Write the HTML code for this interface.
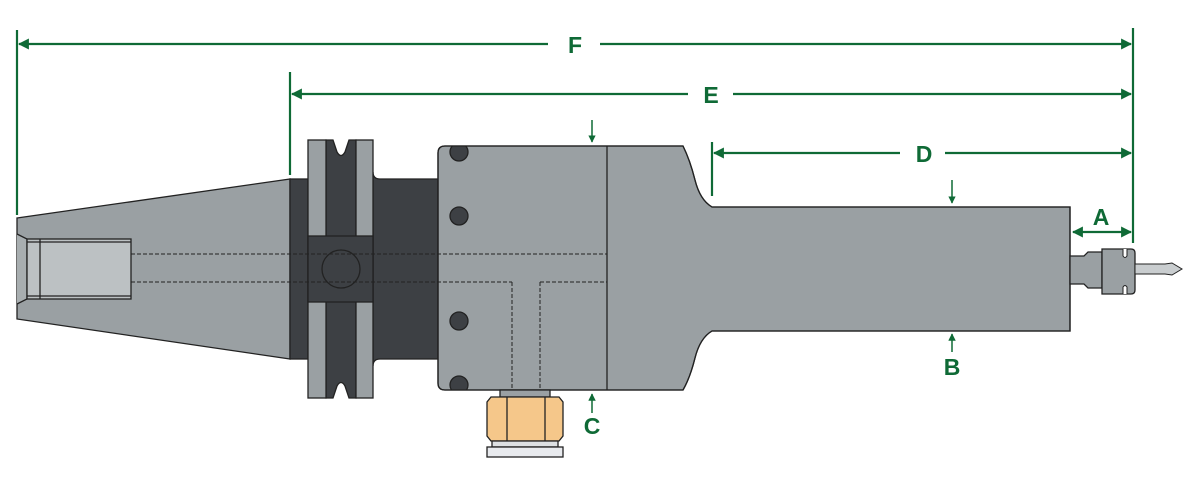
<!DOCTYPE html>
<html><head><meta charset="utf-8"><style>
html,body{margin:0;padding:0;background:#fff;}
svg{display:block;}
text{font-family:"Liberation Sans",sans-serif;font-weight:bold;fill:#0f6a36;font-size:23px;text-anchor:middle;}
</style></head><body>
<svg width="1200" height="488" viewBox="0 0 1200 488" xmlns="http://www.w3.org/2000/svg">
<defs>
<marker id="ar" viewBox="0 0 10 10" refX="9" refY="5" markerWidth="5" markerHeight="5" orient="auto-start-reverse"><path d="M0,0 L10,5 L0,10 z" fill="#0f6a36"/></marker>
<clipPath id="bc"><path d="M445,146 L683,146 Q690,160 695,180 Q700,200 712,207 L1070,207 L1070,331 L712,331 Q700,338 695,358 Q690,378 683,390 L445,390 Q438,390 438,383 L438,153 Q438,146 445,146 Z"/></clipPath>
</defs>
<g stroke="#222" stroke-width="1.3">
<path d="M17,218 L290,179 L290,359 L17,319 Z" fill="#9aa0a3"/>
<path d="M17,234 L27,239 L27,299 L17,304" fill="#a8aeb0"/>
<rect x="27" y="239" width="104" height="60" fill="#bcc1c3"/>
<line x1="40" y1="239" x2="40" y2="299"/><line x1="27" y1="242" x2="131" y2="242"/><line x1="27" y1="296" x2="131" y2="296"/>
<rect x="290" y="179" width="18" height="180" fill="#3d4044"/>
<path d="M373,172 Q373,179 380,179 L438,179 L438,359 L380,359 Q373,359 373,366 Z" fill="#3d4044"/>
<path d="M326,140 L333,140 L337,152 Q341,159 345,152 L349,140 L356,140 L356,398 L349,398 L345,386 Q341,379 337,386 L333,398 L326,398 Z" fill="#3d4044"/>
<rect x="308" y="140" width="18" height="258" fill="#9aa0a3"/>
<rect x="356" y="140" width="17" height="258" fill="#9aa0a3"/>
<rect x="308" y="236" width="65" height="66" fill="#3d4044"/>
<circle cx="341" cy="269" r="19" fill="#3d4044"/>
<path d="M445,146 L683,146 Q690,160 695,180 Q700,200 712,207 L1070,207 L1070,331 L712,331 Q700,338 695,358 Q690,378 683,390 L445,390 Q438,390 438,383 L438,153 Q438,146 445,146 Z" fill="#9aa0a3"/>
<line x1="607" y1="146" x2="607" y2="390"/>
<g clip-path="url(#bc)">
<circle cx="459" cy="152" r="9" fill="#3d4044"/>
<circle cx="459" cy="216" r="9" fill="#3d4044"/>
<circle cx="459" cy="321" r="9" fill="#3d4044"/>
<circle cx="459" cy="385" r="9" fill="#3d4044"/>
</g>
<path d="M445,146 L683,146 Q690,160 695,180 Q700,200 712,207 L1070,207 L1070,331 L712,331 Q700,338 695,358 Q690,378 683,390 L445,390 Q438,390 438,383 L438,153 Q438,146 445,146 Z" fill="none"/>
<path d="M1070,256 L1084,256 L1088,252 L1102,252 L1102,288 L1088,288 L1084,284 L1070,284 Z" fill="#9aa0a3"/>
<path d="M1102,249 L1131,249 Q1135,249 1135,253 L1135,290 Q1135,294 1131,294 L1102,294 Z" fill="#9aa0a3"/>
<path d="M1123,249 L1123,256 Q1125,259 1127,256 L1127,249" fill="#fff" stroke-width="1"/>
<path d="M1123,294 L1123,287 Q1125,284 1127,287 L1127,294" fill="#fff" stroke-width="1"/>
<path d="M1135,264 L1165,264 L1172,263 L1182,269 L1172,275 L1165,274 L1135,274 Z" fill="#c9cdcf" stroke-width="1"/>
<rect x="500" y="390" width="50" height="7" fill="#9aa0a3"/>
<path d="M491,397 L559,397 L563,402 L563,436 L559,441 L491,441 L487,436 L487,402 Z" fill="#f5c78a"/>
<line x1="507" y1="397" x2="507" y2="441"/><line x1="545" y1="397" x2="545" y2="441"/>
<rect x="492" y="441" width="66" height="6" fill="#dde0e3"/>
<rect x="487" y="447" width="76" height="10" fill="#e8eaee"/>
</g>
<g stroke="#222" stroke-width="1" stroke-dasharray="4,2" fill="none">
<line x1="131" y1="254" x2="607" y2="254"/>
<line x1="131" y1="282" x2="512" y2="282"/>
<line x1="540" y1="282" x2="607" y2="282"/>
<line x1="512" y1="282" x2="512" y2="390"/>
<line x1="540" y1="282" x2="540" y2="390"/>
</g>
<g stroke="#0f6a36" stroke-width="2.2" fill="none">
<line x1="17" y1="30" x2="17" y2="215"/>
<line x1="1133" y1="28" x2="1133" y2="243"/>
<line x1="290" y1="72" x2="290" y2="175"/>
<line x1="712" y1="142" x2="712" y2="196"/>
<line x1="19" y1="44" x2="548" y2="44" marker-start="url(#ar)"/>
<line x1="600" y1="44" x2="1131" y2="44" marker-end="url(#ar)"/>
<line x1="292" y1="94" x2="688" y2="94" marker-start="url(#ar)"/>
<line x1="733" y1="94" x2="1131" y2="94" marker-end="url(#ar)"/>
<line x1="714" y1="153" x2="900" y2="153" marker-start="url(#ar)"/>
<line x1="945" y1="153" x2="1131" y2="153" marker-end="url(#ar)"/>
<line x1="1073" y1="232" x2="1131" y2="232" marker-start="url(#ar)" marker-end="url(#ar)"/>
<line x1="592" y1="120" x2="592" y2="142" stroke-width="1.5" marker-end="url(#ar)"/>
<line x1="592" y1="413" x2="592" y2="394" stroke-width="1.5" marker-end="url(#ar)"/>
<line x1="952" y1="180" x2="952" y2="203" stroke-width="1.5" marker-end="url(#ar)"/>
<line x1="952" y1="352" x2="952" y2="334" stroke-width="1.5" marker-end="url(#ar)"/>
</g>
<text x="575" y="53">F</text>
<text x="711" y="103">E</text>
<text x="924" y="162">D</text>
<text x="1101" y="225">A</text>
<text x="952" y="375">B</text>
<text x="592" y="434">C</text>
</svg>
</body></html>
